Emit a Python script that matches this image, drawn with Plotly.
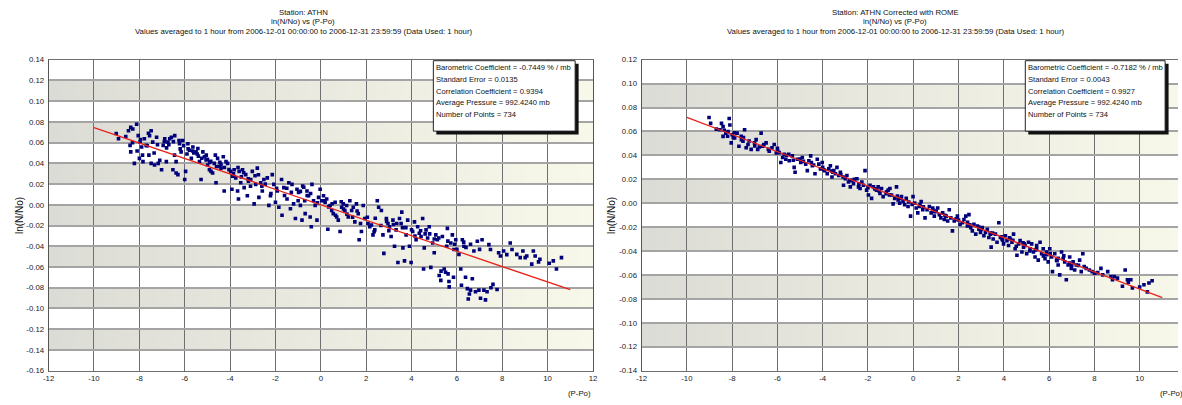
import plotly.graph_objects as go

# ---------------- data ----------------
athn_x = [
 -9.02,-8.92,-8.48,-8.38,-8.29,-8.12,-8.41,-8.38,-8.22,-8.05,
 -7.97,-7.90,-7.86,-8.00,-7.78,-7.70,-7.84,-7.55,-7.48,-7.41,
 -7.58,-7.48,-7.33,-7.24,-7.17,-7.02,-6.95,-6.88,-6.81,-6.74,
 -6.66,-6.59,-6.44,-6.52,-6.38,-6.30,-6.38,-6.23,-6.16,-6.09,
 -6.00,-5.96,-5.86,-5.79,-5.71,-5.64,-5.50,-5.42,-5.35,-5.28,
 -5.20,-5.13,-5.06,-4.99,-4.91,-4.84,-4.77,-4.70,-4.65,-4.62,
 -4.55,-4.48,-4.40,-4.30,-4.26,-4.18,-4.11,
 -3.97,-3.89,-3.92,-3.82,-3.75,-3.67,-3.63,-3.60,-3.53,-3.45,
 -3.38,-3.31,-3.24,-3.19,-3.09,-3.02,-2.94,-2.87,-2.80,-2.73,
 -2.65,-2.58,-2.51,-2.36,-2.29,-2.22,-2.14,-2.07,-2.00,
 -1.92,-1.85,-1.73,-1.71,-1.63,-1.49,-1.41,-1.34,-1.27,-1.20,
 -1.12,-1.05,-0.98,-0.90,-0.83,-0.80,-0.71,-0.69,-0.61,-0.54,
 -0.47,-0.42,-0.39,-0.32,-0.25,-0.17,-0.10,-0.03,
 0.04,0.12,0.19,0.26,0.31,0.41,0.48,0.55,0.63,0.70,
 0.77,0.85,0.92,0.99,1.06,1.14,1.21,1.28,1.36,1.43,
 1.50,1.57,1.65,1.69,1.79,1.87,1.94,
 2.08,2.16,2.23,2.30,2.38,2.49,2.55,2.67,2.74,2.78,
 2.89,2.96,3.03,3.10,3.18,3.25,3.32,3.40,3.47,3.54,
 3.57,3.62,3.69,3.76,3.83,3.91,3.98,
 4.05,4.13,4.20,4.27,4.34,4.42,4.49,4.53,4.56,4.64,
 4.71,4.78,4.85,4.93,5.00,5.07,5.14,5.22,5.29,5.36,
 5.44,5.50,5.55,5.58,5.61,5.66,5.73,5.80,5.85,5.87,5.95,
 6.09,6.17,6.20,6.24,6.31,6.38,6.46,6.50,6.60,6.68,
 6.75,6.82,6.90,6.97,7.04,7.11,7.19,7.26,7.33,7.41,
 7.48,7.59,7.77,7.84,7.92,
 8.06,8.35,8.43,8.64,8.79,8.91,9.01,9.08,9.30,9.37,
 9.45,9.66,10.07,10.25,10.39,10.61,
 -7.6,-7.2,-6.8,-6.5,-6.2,-5.9,-5.6,-5.4,-5.0,-4.9,
 -4.6,-4.4,-3.5,-3.2,-2.9,-2.6,-1.5,-0.9,-0.6,0.5,
 1.0,1.6,2.4,2.9,3.2,3.6,4.0,4.4,4.8,5.2,
 5.6,5.9,6.4,6.6,
 -8.6,-8.3,-8.1,-7.95,-7.65,-7.35,-7.1,-6.9,-6.7,-6.45,
 -6.25,-6.05,-5.85,-5.65,-5.45,-5.25,-5.05,-4.85,-4.45,-4.25,
 -4.05,-3.85,-3.65,-3.4,-3.1,-2.75,-2.45,-2.2,-1.95,-1.6,
 -1.3,-1.0,-0.75,-0.45,-0.15,0.15,0.35,0.65,0.9,1.15,
 1.4,1.75,2.05,2.35,2.65,3.0,3.35,3.75,4.15,4.6,
 5.0,5.3,5.65,6.0,6.3,6.55,7.0,7.5,8.2,9.6,
]
athn_y = [
 0.0688,0.0637,0.0715,0.0747,0.0731,0.0778,0.0574,0.0511,0.0400,0.0668,
 0.0605,0.0558,0.0480,0.0448,0.0637,0.0574,0.0417,0.0668,0.0715,0.0605,
 0.0480,0.0400,0.0385,0.0652,0.0400,0.0338,0.0574,0.0637,0.0417,0.0605,
 0.0637,0.0652,0.0668,0.0338,0.0307,0.0291,0.0417,0.0590,0.0511,0.0620,
 0.0244,0.0323,0.0590,0.0527,0.0448,0.0558,0.0511,0.0543,0.0417,0.0244,
 0.0511,0.0464,0.0432,0.0385,0.0338,0.0323,0.0307,0.0400,0.0480,0.0213,
 0.0448,0.0370,0.0354,0.0464,0.0134,0.0417,0.0400,
 0.0323,0.0276,0.0150,0.0338,0.0260,0.0134,0.0056,0.0323,0.0213,0.0338,
 0.0166,0.0291,0.0087,0.0229,0.0244,0.0323,0.0009,0.0197,0.0354,0.0072,
 0.0213,0.0134,0.0244,0.0260,-0.0005,0.0087,0.0291,0.0197,0.0025,
 0.0134,-0.0023,0.0244,-0.0101,0.0166,0.0056,0.0213,-0.0038,0.0197,0.0009,
 -0.0132,0.0150,0.0119,-0.0005,-0.0148,0.0181,0.0040,-0.0085,0.0134,0.0087,
 -0.0117,-0.0211,0.0197,0.0040,-0.0005,-0.0148,0.0072,0.0150,
 0.0040,0.0087,0.0025,0.0056,-0.0236,-0.0007,-0.0054,-0.0085,0.0025,-0.0117,
 -0.0148,-0.0258,-0.0023,0.0009,-0.0054,-0.0007,-0.0117,0.0040,-0.0054,-0.0023,
 -0.0164,0.0009,-0.0085,-0.0337,-0.0258,-0.0007,-0.0132,
 -0.0180,-0.0211,-0.0195,-0.0290,-0.0242,0.0040,-0.0023,-0.0054,-0.0290,-0.0468,
 -0.0132,-0.0180,-0.0211,-0.0305,-0.0148,-0.0399,-0.0242,-0.0556,-0.0132,-0.0180,
 -0.0070,-0.0415,-0.0541,-0.0290,-0.0148,-0.0399,-0.0556,
 -0.0258,-0.0164,-0.0337,-0.0211,-0.0274,-0.0305,-0.0132,-0.0619,-0.0415,-0.0242,
 -0.0320,-0.0211,-0.0603,-0.0368,-0.0462,-0.0290,-0.0337,-0.0682,-0.0729,-0.0305,
 -0.0619,-0.0650,-0.0399,-0.0227,-0.0666,-0.0792,-0.0368,-0.0290,-0.0698,-0.0431,-0.0337,
 -0.0478,-0.0619,-0.0776,-0.0337,-0.0399,-0.0698,-0.0808,-0.0908,-0.0823,-0.0713,
 -0.0446,-0.0839,-0.0352,-0.0823,-0.0902,-0.0337,-0.0823,-0.0917,-0.0839,-0.0384,
 -0.0431,-0.0767,-0.0817,-0.0462,-0.0494,
 -0.0446,-0.0368,-0.0431,-0.0478,-0.0509,-0.0446,-0.0509,-0.0494,-0.0572,-0.0446,
 -0.0494,-0.0525,-0.0563,-0.0541,-0.0619,-0.0509,
 0.069,0.058,0.055,0.061,0.054,0.049,0.050,0.047,0.044,0.041,
 0.037,0.039,0.027,0.025,0.028,0.018,0.016,0.013,0.009,0.001,
 -0.004,-0.006,-0.013,-0.016,-0.019,-0.022,-0.024,-0.025,-0.028,-0.032,
 -0.035,-0.038,-0.041,-0.038,
 0.066,0.060,0.052,0.063,0.057,0.050,0.043,0.061,0.058,0.048,
 0.062,0.057,0.054,0.052,0.049,0.045,0.048,0.042,0.041,0.036,
 0.034,0.030,0.036,0.031,0.018,0.029,0.020,0.011,0.016,0.009,
 0.012,0.004,0.017,0.011,0.002,0.004,-0.002,-0.010,0.003,-0.009,
 -0.012,-0.018,-0.012,-0.026,-0.020,-0.025,-0.018,-0.022,-0.030,-0.028,
 -0.033,-0.064,-0.074,-0.043,-0.036,-0.086,-0.043,-0.080,-0.048,-0.055,
]

rome_x = [
 -9.02,-8.95,-8.47,-8.40,-8.13,-8.10,-8.54,-8.40,-8.28,-8.18,
 -8.04,-8.00,-7.89,-7.78,-7.70,-7.59,-7.52,-7.45,-7.38,-7.30,
 -7.16,-7.01,-6.94,-6.87,-6.72,-6.65,-6.50,-6.36,-6.24,-6.14,
 -5.99,-5.92,-5.85,-5.77,-5.70,-5.63,-5.48,-5.34,-5.26,-5.22,
 -5.12,-4.97,-4.90,-4.75,-4.68,-4.61,-4.53,-4.46,-4.34,-4.24,
 -4.17,-4.10,-4.02,-3.91,-3.80,-3.73,-3.66,-3.59,-3.51,-3.44,
 -3.37,-3.29,-3.22,-3.08,-3.00,-2.93,-2.86,-2.78,-2.71,-2.64,
 -2.49,-2.42,-2.35,-2.27,-2.13,-2.06,-1.98,-1.91,-1.84,-1.76,
 -1.62,-1.55,-1.47,-1.40,-1.33,-1.18,-1.11,-1.03,-0.96,-0.89,
 -0.82,-0.74,-0.67,-0.60,-0.52,-0.45,-0.38,-0.31,-0.23,-0.12,
 -0.01,0.06,0.13,0.20,0.28,0.35,0.42,0.52,0.61,0.71,
 0.79,0.86,0.93,1.01,1.08,1.15,1.22,1.30,1.37,1.44,
 1.52,1.59,1.66,1.73,1.81,1.88,1.95,2.07,2.17,2.24,
 2.32,2.39,2.46,2.54,2.61,2.68,2.76,2.83,2.90,2.97,
 3.05,3.12,3.19,3.27,3.34,3.41,3.44,3.53,3.63,3.70,
 3.78,3.85,3.92,3.99,4.07,4.14,4.21,4.29,4.36,4.43,
 4.50,4.58,4.65,4.72,4.80,4.87,4.94,5.01,5.09,5.16,
 5.23,5.31,5.38,5.45,5.52,5.60,5.67,5.74,5.82,5.89,
 5.96,6.03,6.11,6.15,6.25,6.33,6.40,6.47,6.55,6.62,
 6.69,6.76,6.84,6.91,6.98,7.06,7.13,7.20,7.35,7.42,
 7.49,7.64,7.78,7.90,8.00,8.29,8.37,8.59,8.73,8.88,
 9.02,9.24,9.36,9.46,9.61,9.68,10.19,10.34,10.41,10.55,
 -7.9,-7.5,-7.0,-6.6,-6.0,-5.5,-5.0,-4.5,-4.0,-3.6,
 -3.1,-2.6,-2.2,-1.7,-1.2,-0.7,-0.2,0.3,0.9,1.4,
 1.9,2.4,2.9,3.4,3.9,4.4,4.9,5.4,5.9,6.4,
 6.9,7.3,
 -8.7,-8.35,-8.2,-7.95,-7.6,-7.25,-6.8,-6.4,-6.05,-5.6,
 -5.3,-4.85,-4.4,-3.95,-3.55,-3.2,-2.8,-2.4,-2.0,-1.5,
 -1.05,-0.55,-0.05,0.45,0.95,1.45,2.0,2.5,3.0,3.5,
 3.95,4.25,4.55,4.85,5.15,5.45,5.75,6.05,6.35,6.65,
 7.0,7.55,8.15,8.8,9.5,10.0,
]
rome_y = [
 0.0717,0.0668,0.0668,0.0641,0.0709,0.0654,0.0614,0.0559,0.0586,0.0600,
 0.0505,0.0573,0.0546,0.0586,0.0477,0.0532,0.0518,0.0614,0.0464,0.0491,
 0.0450,0.0505,0.0532,0.0450,0.0586,0.0477,0.0505,0.0436,0.0464,0.0491,
 0.0436,0.0423,0.0341,0.0382,0.0409,0.0368,0.0355,0.0396,0.0300,0.0259,
 0.0368,0.0341,0.0382,0.0327,0.0273,0.0355,0.0396,0.0314,0.0246,0.0368,
 0.0327,0.0287,0.0341,0.0273,0.0246,0.0287,0.0314,0.0219,0.0273,0.0246,
 0.0300,0.0232,0.0259,0.0150,0.0205,0.0232,0.0178,0.0137,0.0191,0.0164,
 0.0205,0.0137,0.0123,0.0178,0.0273,0.0110,0.0069,0.0150,0.0041,0.0137,
 0.0110,0.0137,0.0082,0.0123,0.0055,0.0096,0.0110,0.0123,0.0069,-0.0005,
 0.0041,0.0137,0.0028,0.0001,0.0055,0.0014,-0.0013,0.0041,-0.0027,-0.0108,
 0.0055,0.0001,-0.0040,-0.0081,-0.0027,0.0014,-0.0054,-0.0122,-0.0054,-0.0027,
 -0.0081,-0.0040,-0.0108,-0.0068,-0.0040,-0.0095,-0.0122,-0.0081,-0.0136,-0.0108,
 -0.0149,-0.0054,-0.0122,-0.0231,-0.0149,-0.0136,-0.0108,-0.0177,-0.0163,-0.0136,
 -0.0108,-0.0190,-0.0095,-0.0204,-0.0231,-0.0177,-0.0258,-0.0190,-0.0217,-0.0245,
 -0.0204,-0.0272,-0.0245,-0.0217,-0.0286,-0.0258,-0.0367,-0.0299,-0.0258,-0.0326,
 -0.0163,-0.0286,-0.0299,-0.0340,-0.0272,-0.0313,-0.0354,-0.0299,-0.0326,-0.0258,
 -0.0381,-0.0435,-0.0340,-0.0313,-0.0408,-0.0367,-0.0354,-0.0422,-0.0326,-0.0381,
 -0.0340,-0.0408,-0.0449,-0.0354,-0.0476,-0.0326,-0.0422,-0.0381,-0.0463,-0.0408,
 -0.0490,-0.0381,-0.0449,-0.0572,-0.0422,-0.0476,-0.0517,-0.0599,-0.0408,-0.0463,
 -0.0490,-0.0640,-0.0517,-0.0449,-0.0545,-0.0490,-0.0558,-0.0517,-0.0476,-0.0572,
 -0.0422,-0.0545,-0.0558,-0.0572,-0.0585,-0.0545,-0.0599,-0.0572,-0.0613,-0.0613,
 -0.0626,-0.0694,-0.0558,-0.0640,-0.0640,-0.0708,-0.0681,-0.0741,-0.0667,-0.0648,
 0.059,0.055,0.048,0.049,0.046,0.041,0.037,0.034,0.030,0.027,
 0.022,0.020,0.015,0.012,0.008,0.006,0.001,-0.001,-0.006,-0.010,
 -0.013,-0.016,-0.020,-0.025,-0.028,-0.031,-0.034,-0.039,-0.043,-0.046,
 -0.050,-0.052,
 0.062,0.061,0.056,0.055,0.056,0.052,0.047,0.045,0.042,0.040,
 0.036,0.035,0.032,0.028,0.026,0.024,0.019,0.016,0.013,0.010,
 0.007,0.004,-0.001,-0.003,-0.007,-0.011,-0.014,-0.018,-0.022,-0.025,
 -0.031,-0.029,-0.036,-0.033,-0.040,-0.038,-0.044,-0.042,-0.048,-0.044,
 -0.052,-0.053,-0.058,-0.064,-0.066,-0.070,
]

fit_x = [-10, 11]
athn_fit_y = [0.0745, -0.0819]
rome_fit_y = [0.0718, -0.0790]

x_tickvals = [-12, -10, -8, -6, -4, -2, 0, 2, 4, 6, 8, 10, 12]
x_ticktext = ["-12", "-10", "-8", "-6", "-4", "-2", "0", "2", "4", "6", "8", "10", "12"]
athn_ytickvals = [0.14, 0.12, 0.10, 0.08, 0.06, 0.04, 0.02, 0.00, -0.02, -0.04,
                  -0.06, -0.08, -0.10, -0.12, -0.14, -0.16]
rome_ytickvals = [0.12, 0.10, 0.08, 0.06, 0.04, 0.02, 0.00, -0.02, -0.04,
                  -0.06, -0.08, -0.10, -0.12, -0.14]
athn_bands = [0.10, 0.06, 0.02, -0.02, -0.06, -0.10, -0.14]
rome_bands = [0.08, 0.04, 0.00, -0.04, -0.08, -0.12]

athn_title = ["Station: ATHN", "ln(N/No) vs (P-Po)",
              "Values averaged to 1 hour from 2006-12-01 00:00:00 to 2006-12-31 23:59:59 (Data Used: 1 hour)"]
rome_title = ["Station: ATHN Corrected with ROME", "ln(N/No) vs (P-Po)",
              "Values averaged to 1 hour from 2006-12-01 00:00:00 to 2006-12-31 23:59:59 (Data Used: 1 hour)"]
athn_stats = ["Barometric Coefficient = -0.7449 % / mb", "Standard Error = 0.0135",
              "Correlation Coefficient = 0.9394", "Average Pressure = 992.4240 mb",
              "Number of Points = 734"]
rome_stats = ["Barometric Coefficient = -0.7182 % / mb", "Standard Error = 0.0043",
              "Correlation Coefficient = 0.9927", "Average Pressure = 992.4240 mb",
              "Number of Points = 734"]

# ---------------- layout helpers ----------------
W, H = 1182, 405
FONT = "Liberation Sans Narrow, Arial Narrow, Liberation Sans, Arial, sans-serif"
TXT = "#111111"


def px(x):
    return x / W


def py(y):
    return 1 - y / H


def fmt(v):
    return f"{v:.2f}" if abs(v) > 1e-9 else "0.00"


fig = go.Figure()

for xs, ys, fy, xa, ya in [(athn_x, athn_y, athn_fit_y, "x", "y"),
                           (rome_x, rome_y, rome_fit_y, "x2", "y2")]:
    fig.add_trace(go.Scatter(x=xs, y=ys, mode="markers", xaxis=xa, yaxis=ya,
                             marker=dict(symbol="square", size=3.6, color="#00007a",
                                         line=dict(width=0)),
                             showlegend=False, hoverinfo="x+y"))
    fig.add_trace(go.Scatter(x=fit_x, y=fy, mode="lines", xaxis=xa, yaxis=ya,
                             line=dict(color="#e8231c", width=1.3),
                             showlegend=False, hoverinfo="skip"))

shapes = []
annotations = []

# gradient bands (grey on the left, cream on the right)
c0 = (220, 220, 214)
c1 = (248, 248, 234)
NSEG = 40
for bands, xr, yr in [(athn_bands, "x", "y"), (rome_bands, "x2", "y2")]:
    for b in bands:
        for i in range(NSEG):
            t = (i + 0.5) / NSEG
            col = tuple(int(round(c0[k] + (c1[k] - c0[k]) * t)) for k in range(3))
            xa0 = -12 + 24 * i / NSEG
            xa1 = -12 + 24 * (i + 1) / NSEG + 0.15
            shapes.append(dict(type="rect", xref=xr, yref=yr, x0=xa0, x1=xa1,
                               y0=b, y1=b + 0.02, layer="below",
                               fillcolor=f"rgb{col}", line=dict(width=0)))

# statistics boxes with drop shadow
for stats, bx0, bx1 in [(athn_stats, 431, 574), (rome_stats, 1028, 1169)]:
    shapes.append(dict(type="rect", xref="paper", yref="paper",
                       x0=px(bx0 + 3), x1=px(bx1 + 3.5), y0=py(133.5), y1=py(61),
                       fillcolor="#111111", line=dict(width=0)))
    shapes.append(dict(type="rect", xref="paper", yref="paper",
                       x0=px(bx0), x1=px(bx1), y0=py(130), y1=py(58),
                       fillcolor="white", line=dict(color="#222222", width=1)))
    for i, s in enumerate(stats):
        annotations.append(dict(text=s, xref="paper", yref="paper",
                                x=px(bx0 + 1), y=py(65 + 12 * i), xanchor="left",
                                yanchor="middle", showarrow=False,
                                font=dict(family=FONT, size=7.6, color=TXT)))

# titles
for lines, cx in [(athn_title, 300), (rome_title, 897)]:
    for i, s in enumerate(lines):
        annotations.append(dict(text=s, xref="paper", yref="paper", x=px(cx),
                                y=py(8.5 + 9.8 * i), xanchor="center", yanchor="middle",
                                showarrow=False,
                                font=dict(family=FONT, size=7.8, color=TXT)))

# axis titles
for yx in [13, 610]:
    annotations.append(dict(text="ln(N/No)", xref="paper", yref="paper", x=px(yx),
                            y=py(216), textangle=-90, xanchor="center", yanchor="middle",
                            showarrow=False, font=dict(family=FONT, size=10, color=TXT)))
for rx in [592, 1189]:
    annotations.append(dict(text="(P-Po)", xref="paper", yref="paper", x=px(rx),
                            y=py(398), xanchor="right", yanchor="middle",
                            showarrow=False, font=dict(family=FONT, size=7.8, color=TXT)))

tickfont = dict(family=FONT, size=7.8, color="#1a1a1a")
common_x = dict(tickvals=x_tickvals, ticktext=x_ticktext, showgrid=True,
                gridcolor="#6e6e6e", gridwidth=1, zeroline=False, showline=True,
                linecolor="#6e6e6e", linewidth=1, ticks="", tickfont=tickfont,
                fixedrange=True, mirror=True)
common_y = dict(showgrid=True, gridcolor="#a4a4a4", gridwidth=1.5, zeroline=False,
                showline=True, linecolor="#555555", linewidth=1, ticks="outside",
                ticklen=2, tickcolor="rgba(0,0,0,0)", tickfont=tickfont, fixedrange=True)

fig.update_layout(
    width=W, height=H,
    margin=dict(l=0, r=0, t=0, b=0),
    paper_bgcolor="white", plot_bgcolor="white",
    showlegend=False,
    xaxis=dict(domain=[px(43), px(592)], range=[-12, 12], anchor="y", **common_x),
    yaxis=dict(domain=[py(375), py(57)], range=[-0.16, 0.14], anchor="x", mirror=True,
               tickvals=athn_ytickvals, ticktext=[fmt(v) for v in athn_ytickvals],
               **common_y),
    xaxis2=dict(domain=[px(641), 1.0], range=[-12, 12 - (1189 - W) / 22.85], anchor="y2",
                **common_x),
    yaxis2=dict(domain=[py(375), py(57)], range=[-0.14, 0.12], anchor="x2", mirror=False,
                tickvals=rome_ytickvals, ticktext=[fmt(v) for v in rome_ytickvals],
                **common_y),
    shapes=shapes,
    annotations=annotations,
)

fig.write_html("out.html",
               config={"displayModeBar": False},
               post_script="document.body.style.margin='0px';"
                           "document.body.style.overflow='hidden';")
